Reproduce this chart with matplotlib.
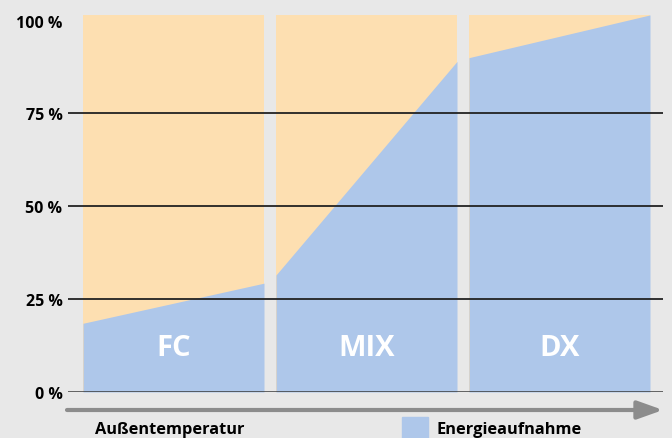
import matplotlib
matplotlib.use("Agg")
from matplotlib import pyplot as plt
import numpy as np

# energy share (blue) at left / right edge of each operating range, in %
panels = ["FC", "MIX", "DX"]
blue_left = [18.5, 31.5, 90]
blue_right = [29.3, 89, 101.5]
y_ticks = [0, 25, 50, 75, 100]
tick_labels = ["0 %", "25 %", "50 %", "75 %", "100 %"]

bg = "#e8e8e8"
c_blue = "#aec7ea"
c_orange = "#fddfb1"

plt.rcParams["font.family"] = ["Open Sans", "DejaVu Sans"]

W, H = 672, 439
px = 3.715               # pixels per percent
top = (393 - 16) / px    # panels reach a little above 100 %
fig = plt.figure(figsize=(W / 100, H / 100), dpi=100, facecolor=bg)
ax = fig.add_axes([68 / W, 1 - 393 / H, (663 - 68) / W, (393 - 16) / H])
ax.set_facecolor(bg)

pw = 1.0          # panel width (data units)
gap = 12 / 181    # gap between panels
x0 = (83 - 68) / 181
for i, name in enumerate(panels):
    xa = x0 + i * (pw + gap)
    xs = np.array([xa, xa + pw])
    ys = np.array([blue_left[i], blue_right[i]])
    ax.fill_between(xs, 0, top, color=c_orange, lw=0, zorder=1)
    ax.fill_between(xs, 0, ys, color=c_blue, lw=0, zorder=2)
    ax.text(xa + pw / 2, 12, name, color="white", fontsize=21,
            fontweight="bold", ha="center", va="center", zorder=3)

ax.set_xlim(0, (663 - 68) / 181)
ax.set_ylim(0, top)

for y in y_ticks[1:-1]:
    ax.axhline(y, color="#222222", lw=1.3, zorder=4)
ax.axhline(0, color="#3a3a3a", lw=1.8, zorder=4)

ax.set_yticks(y_ticks)
ax.set_yticklabels(tick_labels, fontsize=11.5, fontweight="bold")
ax.tick_params(axis="y", length=0, pad=4)
ax.set_xticks([])
for s in ax.spines.values():
    s.set_visible(False)

# temperature arrow
ax.annotate("", xy=(663 / W, 1 - 411 / H), xytext=(67 / W, 1 - 411 / H),
            xycoords="figure fraction", textcoords="figure fraction",
            arrowprops=dict(arrowstyle="-|>,head_length=0.7,head_width=0.25",
                            color="#8c8c8c", lw=3,
                            mutation_scale=22, shrinkA=0, shrinkB=0))

fig.text(95 / W, 1 - 430 / H, "Außentemperatur", fontsize=11.8,
         fontweight="bold", va="center", ha="left")
fig.patches.append(plt.Rectangle((402 / W, 0), 26 / W, 21 / H,
                                 transform=fig.transFigure, color=c_blue))
fig.text(437 / W, 1 - 430 / H, "Energieaufnahme", fontsize=11.8,
         fontweight="bold", va="center", ha="left")

fig.savefig("out.png", dpi=100, facecolor=bg)
